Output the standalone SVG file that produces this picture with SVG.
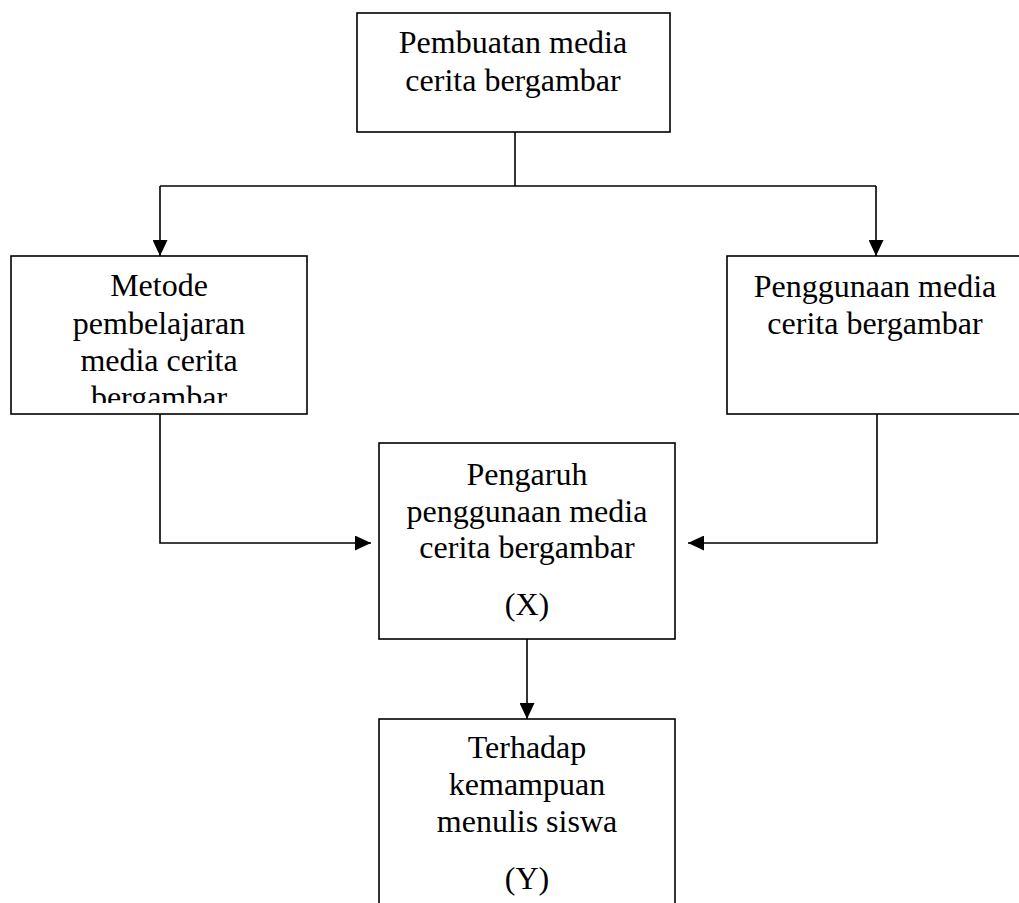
<svg xmlns="http://www.w3.org/2000/svg" width="1019" height="903" viewBox="0 0 1019 903">
<style>
.box{fill:#fff;stroke:#000;stroke-width:1.6}
.ln{fill:none;stroke:#000;stroke-width:1.6}
text{font-family:"Liberation Serif","Times New Roman",serif;font-size:32px;fill:#000;text-anchor:middle}
</style>
<defs>
<marker id="ah" viewBox="0 0 16 15" refX="16" refY="7.5" markerWidth="16" markerHeight="15" markerUnits="userSpaceOnUse" orient="auto">
<path d="M0,0 L16,7.5 L0,15 Z" fill="#000"/>
</marker>
<clipPath id="clipL"><rect x="11" y="256" width="296" height="147"/></clipPath>
</defs>
<rect width="1019" height="903" fill="#fff"/>
<g id="connectors">
<path class="ln" d="M515,132 V186"/>
<path class="ln" d="M160,186 H876"/>
<path class="ln" d="M160,186 V256" marker-end="url(#ah)"/>
<path class="ln" d="M876,186 V256" marker-end="url(#ah)"/>
<path class="ln" d="M160,414 V543 H371" marker-end="url(#ah)"/>
<path class="ln" d="M877,414 V543 H688" marker-end="url(#ah)"/>
<path class="ln" d="M527,639 V719" marker-end="url(#ah)"/>
</g>
<g id="node-pembuatan">
<rect class="box" x="357" y="13" width="313" height="119"/>
<text x="513" y="53">Pembuatan media</text>
<text x="513" y="91">cerita bergambar</text>
</g>
<g id="node-metode">
<rect class="box" x="11" y="256" width="296" height="158"/>
<g clip-path="url(#clipL)">
<text x="159" y="296">Metode</text>
<text x="159" y="334">pembelajaran</text>
<text x="159" y="371">media cerita</text>
<text x="159" y="408">bergambar</text>
</g>
</g>
<g id="node-penggunaan">
<rect class="box" x="727" y="256" width="296" height="158"/>
<text x="875" y="297">Penggunaan media</text>
<text x="875" y="334">cerita bergambar</text>
</g>
<g id="node-pengaruh">
<rect class="box" x="379" y="443" width="296" height="196"/>
<text x="527" y="485">Pengaruh</text>
<text x="527" y="522">penggunaan media</text>
<text x="527" y="558">cerita bergambar</text>
<text x="527" y="615">(X)</text>
</g>
<g id="node-terhadap">
<rect class="box" x="379" y="719" width="296" height="200"/>
<text x="527" y="758">Terhadap</text>
<text x="527" y="795">kemampuan</text>
<text x="527" y="832">menulis siswa</text>
<text x="527" y="889">(Y)</text>
</g>
</svg>
